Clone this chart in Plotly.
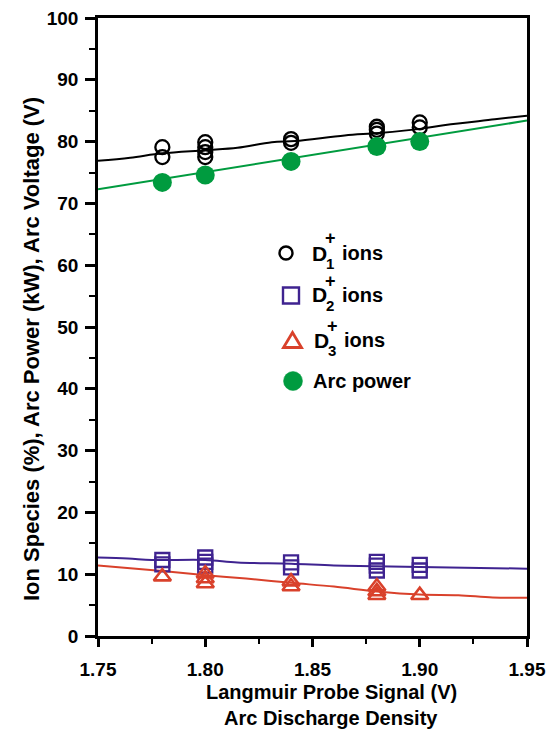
import plotly.graph_objects as go

# ---------------- data ----------------
d1_x = [1.78, 1.78, 1.80, 1.80, 1.80, 1.80, 1.84, 1.84, 1.88, 1.88, 1.88, 1.90, 1.90]
d1_y = [79.1, 77.5, 79.9, 79.1, 78.3, 77.5, 80.4, 79.8, 82.4, 81.9, 81.3, 83.1, 82.3]

d2_x = [1.78, 1.78, 1.80, 1.80, 1.80, 1.84, 1.84, 1.88, 1.88, 1.88, 1.90, 1.90]
d2_y = [12.3, 11.6, 12.7, 12.0, 11.4, 11.9, 11.1, 12.0, 11.4, 10.6, 11.5, 10.6]

d3_x = [1.78, 1.80, 1.80, 1.80, 1.84, 1.84, 1.88, 1.88, 1.88, 1.90]
d3_y = [9.6, 10.1, 9.3, 8.5, 8.8, 8.0, 8.0, 7.2, 6.6, 6.6]

arc_x = [1.78, 1.80, 1.84, 1.88, 1.90]
arc_y = [73.4, 74.6, 76.8, 79.2, 80.0]

# fitted / guide curves
volt_line_x = [1.75, 1.765, 1.78, 1.80, 1.815, 1.831, 1.842, 1.865, 1.881, 1.901, 1.912, 1.935, 1.95]
volt_line_y = [76.9, 77.4, 78.1, 78.6, 79.0, 79.9, 80.1, 81.0, 81.4, 82.1, 82.7, 83.6, 84.2]

pow_line_x = [1.75, 1.95]
pow_line_y = [72.3, 83.4]

d2_line_x = [1.75, 1.764, 1.775, 1.80, 1.815, 1.84, 1.86, 1.88, 1.90, 1.95]
d2_line_y = [12.7, 12.55, 12.3, 12.3, 11.9, 11.7, 11.4, 11.3, 11.15, 10.9]

d3_line_x = [1.75, 1.78, 1.80, 1.819, 1.84, 1.86, 1.88, 1.90, 1.918, 1.934, 1.95]
d3_line_y = [11.4, 10.5, 9.85, 9.3, 8.6, 8.0, 7.2, 6.7, 6.6, 6.25, 6.2]

x_ticks = [1.75, 1.80, 1.85, 1.90, 1.95]
x_ticktext = ["1.75", "1.80", "1.85", "1.90", "1.95"]
y_ticks = [0, 10, 20, 30, 40, 50, 60, 70, 80, 90, 100]

legend_subs = ["1", "2", "3"]

BLACK = "#000000"
PURPLE = "#3f2390"
RED = "#d9412b"
GREEN = "#009b3f"
FONT = "Liberation Sans, Arial, sans-serif"

W, H = 554, 736
# plot area in window pixels
L, R, T, B = 98, 527, 18, 636


def px(x):
    return (x - L) / (R - L)


def py(y):
    return (B - y) / (B - T)


fig = go.Figure()

# lines
fig.add_trace(go.Scatter(x=volt_line_x, y=volt_line_y, mode="lines",
                         line=dict(color=BLACK, width=2, shape="spline"), showlegend=False))
fig.add_trace(go.Scatter(x=pow_line_x, y=pow_line_y, mode="lines",
                         line=dict(color=GREEN, width=2), showlegend=False))
fig.add_trace(go.Scatter(x=d2_line_x, y=d2_line_y, mode="lines",
                         line=dict(color=PURPLE, width=2, shape="spline"), showlegend=False))
fig.add_trace(go.Scatter(x=d3_line_x, y=d3_line_y, mode="lines",
                         line=dict(color=RED, width=2, shape="spline"), showlegend=False))

# markers
fig.add_trace(go.Scatter(x=d1_x, y=d1_y, mode="markers",
                         marker=dict(symbol="circle-open", size=14, color=BLACK,
                                     line=dict(width=2.3, color=BLACK)), showlegend=False))
fig.add_trace(go.Scatter(x=d2_x, y=d2_y, mode="markers",
                         marker=dict(symbol="square-open", size=14, color=PURPLE,
                                     line=dict(width=2.3, color=PURPLE)), showlegend=False))
fig.add_trace(go.Scatter(x=d3_x, y=d3_y, mode="markers",
                         marker=dict(symbol="triangle-up-open", size=15, color=RED,
                                     line=dict(width=2.6, color=RED)), showlegend=False))
fig.add_trace(go.Scatter(x=arc_x, y=arc_y, mode="markers",
                         marker=dict(symbol="circle", size=19, color=GREEN,
                                     line=dict(width=0)), showlegend=False))

# ---------------- manual legend ----------------
shapes = []
annotations = []


def circle_shape(cx, cy, r, line_color, fill=None, lw=2.2):
    return dict(type="circle", xref="paper", yref="paper",
                x0=px(cx - r), x1=px(cx + r), y0=py(cy + r), y1=py(cy - r),
                line=dict(color=line_color, width=lw),
                fillcolor=fill if fill else "rgba(0,0,0,0)")


shapes.append(circle_shape(286, 253, 6.5, BLACK, lw=2.4))
shapes.append(dict(type="rect", xref="paper", yref="paper",
                   x0=px(283), x1=px(299), y0=py(303.5), y1=py(287.5),
                   line=dict(color=PURPLE, width=2.4)))
tri = "M {} {} L {} {} L {} {} Z".format(px(283.5), py(347.5), px(301.5), py(347.5), px(292.5), py(332.5))
shapes.append(dict(type="path", xref="paper", yref="paper", path=tri,
                   line=dict(color=RED, width=2.8)))
shapes.append(circle_shape(293, 381, 9.5, GREEN, fill=GREEN, lw=0.5))

legend_rows = [(253, 311), (295, 311), (340, 313)]
for (cy, dx), sub in zip(legend_rows, legend_subs):
    annotations.append(dict(text="D", x=px(dx), y=py(cy), xref="paper", yref="paper",
                            xanchor="left", yanchor="middle", showarrow=False, borderpad=0,
                            font=dict(family=FONT, size=21, color=BLACK, weight="bold")))
    annotations.append(dict(text="+", x=px(dx + 19.5), y=py(cy - 14.5), xref="paper", yref="paper",
                            xanchor="center", yanchor="middle", showarrow=False, borderpad=0,
                            font=dict(family=FONT, size=18, color=BLACK, weight="bold")))
    annotations.append(dict(text=sub, x=px(dx + 19), y=py(cy + 10), xref="paper", yref="paper",
                            xanchor="center", yanchor="middle", showarrow=False, borderpad=0,
                            font=dict(family=FONT, size=15, color=BLACK, weight="bold")))
    annotations.append(dict(text="ions", x=px(dx + 29.5), y=py(cy), xref="paper", yref="paper",
                            xanchor="left", yanchor="middle", showarrow=False, borderpad=0,
                            font=dict(family=FONT, size=20, color=BLACK, weight="bold")))
annotations.append(dict(text="Arc power", x=px(312), y=py(381), xref="paper", yref="paper",
                        xanchor="left", yanchor="middle", showarrow=False, borderpad=0,
                        font=dict(family=FONT, size=20, color=BLACK, weight="bold")))

# axis titles
annotations.append(dict(text="Langmuir Probe Signal (V)", x=px(331), y=py(692), xref="paper", yref="paper",
                        xanchor="center", yanchor="middle", showarrow=False,
                        font=dict(family=FONT, size=20, color=BLACK, weight="bold")))
annotations.append(dict(text="Arc Discharge Density", x=px(331), y=py(718), xref="paper", yref="paper",
                        xanchor="center", yanchor="middle", showarrow=False,
                        font=dict(family=FONT, size=20, color=BLACK, weight="bold")))
annotations.append(dict(text="Ion Species (%), Arc Power (kW), Arc Voltage (V)", x=px(31), y=py(349),
                        xref="paper", yref="paper", textangle=-90,
                        xanchor="center", yanchor="middle", showarrow=False,
                        font=dict(family=FONT, size=22, color=BLACK, weight="bold")))

fig.update_layout(
    width=W, height=H,
    margin=dict(l=L, r=W - R, t=T, b=H - B, pad=0),
    paper_bgcolor="white", plot_bgcolor="white",
    font=dict(family=FONT, size=19, color=BLACK, weight="bold"),
    shapes=shapes, annotations=annotations,
    showlegend=False,
)
fig.update_xaxes(range=[1.75, 1.95], tickvals=x_ticks, ticktext=x_ticktext,
                 showgrid=False, zeroline=False, showline=True, linecolor=BLACK, linewidth=2.5,
                 mirror=True, ticks="outside", ticklen=8, tickwidth=2.5, tickcolor=BLACK,
                 ticklabelstandoff=6, automargin=False, ticklabeloverflow="allow",
                 minor=dict(dtick=0.025, tick0=1.75, ticks="outside", ticklen=5, tickwidth=2, tickcolor=BLACK),
                 tickfont=dict(family=FONT, size=19, color=BLACK, weight="bold"))
fig.update_yaxes(range=[0, 100], tickvals=y_ticks,
                 showgrid=False, zeroline=False, showline=True, linecolor=BLACK, linewidth=2.5,
                 mirror=True, ticks="outside", ticklen=10, tickwidth=2.5, tickcolor=BLACK,
                 ticklabelstandoff=3, automargin=False, ticklabeloverflow="allow",
                 minor=dict(dtick=5, tick0=0, ticks="outside", ticklen=6, tickwidth=2, tickcolor=BLACK),
                 tickfont=dict(family=FONT, size=19, color=BLACK, weight="bold"))

# remove the default page margin so the figure sits at the window's top-left corner
fig.write_html("out.html", config={"displayModeBar": False},
               post_script="document.body.style.margin='0px';")
